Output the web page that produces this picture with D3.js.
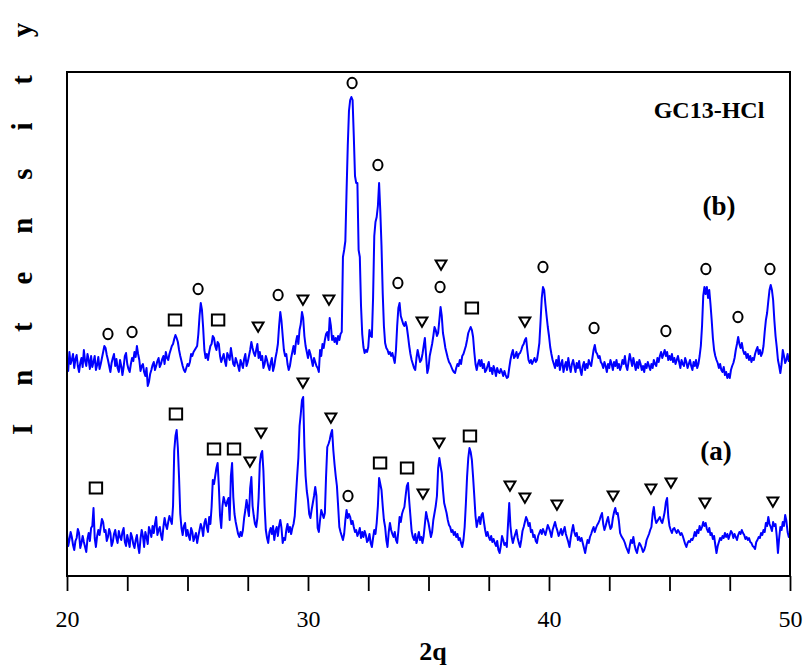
<!DOCTYPE html>
<html>
<head>
<meta charset="utf-8">
<script src="https://cdn.jsdelivr.net/npm/d3@7/dist/d3.min.js"></script>
<style>
  html, body { margin: 0; padding: 0; background: #fff; }
  svg { display: block; }
  text { font-family: "Liberation Serif", "Times New Roman", serif; fill: #000; }
</style>
</head>
<body>
<svg id="chart" width="805" height="668"></svg>
<script>
// XRD scan grid (degrees 2-theta)
const angleStart = 20;
const angleStep = 0.05;
const angleCount = 601;

// Pattern (a): intensity, arbitrary units, one row per degree
const patternA = [
  43, 30, 36, 44, 39, 31, 26, 35, 38, 47, 43, 28, 33, 40, 34, 29, 24, 37, 43, 35, 48,
  50, 68, 38, 29, 40, 46, 41, 49, 57, 54, 44, 46, 35, 39, 47, 43, 30, 34, 42, 46,
  38, 33, 45, 39, 36, 44, 48, 34, 30, 41, 35, 29, 43, 39, 32, 28, 36, 41, 30, 23,
  37, 46, 40, 29, 44, 39, 32, 49, 45, 39, 50, 43, 52, 59, 41, 46, 49, 41, 36, 49,
  58, 51, 47, 54, 60, 56, 52, 70, 125, 140, 146, 128, 98, 62, 48, 41, 50, 53, 40, 46,
  40, 36, 48, 44, 35, 39, 43, 33, 40, 46, 52, 48, 40, 53, 57, 49, 44, 59, 52, 69,
  96, 92, 100, 108, 113, 90, 60, 48, 70, 79, 74, 70, 75, 78, 56, 100, 113, 79, 62, 54,
  48, 42, 39, 44, 40, 46, 58, 66, 76, 68, 60, 88, 99, 70, 60, 52, 49, 58, 78, 112,
  122, 125, 105, 70, 46, 38, 33, 44, 48, 42, 50, 36, 45, 49, 40, 50, 56, 48, 33, 38,
  36, 46, 52, 44, 49, 42, 48, 52, 60, 80, 100, 118, 150, 162, 176, 179, 130, 100, 85, 76,
  62, 58, 66, 73, 80, 89, 80, 48, 44, 56, 66, 62, 58, 63, 100, 129, 132, 136, 142, 146,
  126, 112, 100, 90, 70, 49, 44, 40, 36, 42, 56, 66, 58, 62, 59, 52, 55, 49, 44, 46,
  40, 43, 48, 38, 44, 39, 45, 41, 34, 36, 42, 33, 29, 38, 46, 42, 53, 70, 98, 92,
  86, 70, 56, 49, 36, 29, 44, 53, 46, 42, 39, 44, 36, 33, 45, 59, 54, 62, 66, 69,
  80, 90, 93, 75, 60, 45, 39, 36, 42, 33, 38, 44, 36, 39, 33, 40, 52, 64, 58, 53,
  46, 39, 44, 56, 63, 70, 80, 108, 118, 110, 103, 86, 73, 68, 63, 56, 51, 49, 44, 46,
  41, 44, 39, 42, 36, 38, 33, 29, 36, 49, 72, 99, 118, 128, 124, 116, 99, 80, 60, 49,
  55, 59, 52, 61, 63, 54, 46, 40, 44, 39, 36, 40, 34, 37, 33, 30, 35, 26, 23, 30,
  40, 36, 31, 33, 29, 52, 73, 50, 39, 33, 38, 42, 46, 38, 33, 29, 36, 45, 49, 54,
  59, 56, 50, 53, 44, 46, 39, 41, 35, 33, 40, 43, 46, 42, 47, 44, 41, 46, 51, 48,
  44, 39, 46, 50, 54, 49, 45, 40, 43, 47, 41, 45, 49, 42, 38, 34, 29, 38, 45, 51,
  44, 40, 43, 36, 39, 35, 38, 33, 28, 23, 30, 36, 33, 39, 42, 46, 49, 44, 48, 51,
  53, 56, 60, 63, 52, 46, 50, 55, 59, 52, 47, 49, 58, 64, 68, 62, 63, 55, 43, 40,
  38, 36, 33, 29, 26, 23, 30, 36, 33, 39, 31, 26, 23, 29, 33, 31, 28, 24, 26, 30,
  36, 39, 42, 46, 49, 62, 69, 58, 53, 55, 57, 59, 55, 53, 58, 64, 74, 78, 59, 50,
  46, 43, 47, 48, 45, 43, 46, 44, 41, 43, 40, 36, 32, 29, 33, 35, 34, 37, 36, 39,
  44, 40, 46, 43, 50, 46, 49, 54, 50, 53, 47, 44, 48, 41, 43, 37, 40, 31, 23, 30,
  34, 38, 36, 40, 38, 43, 39, 42, 37, 41, 45, 43, 38, 42, 39, 36, 41, 44, 42, 46,
  43, 41, 37, 39, 36, 38, 34, 33, 30, 29, 27, 34, 36, 39, 38, 43, 41, 46, 44, 53,
  50, 59, 52, 49, 45, 54, 50, 52, 40, 23, 38, 49, 46, 54, 50, 61, 55, 44, 39, 42
];

// Pattern (b): intensity, arbitrary units (plotted with a vertical offset)
const patternB = [
  51, 45, 64, 52, 56, 62, 48, 57, 61, 50, 44, 53, 58, 49, 66, 55, 50, 62, 56, 47, 60,
  49, 54, 60, 46, 51, 59, 47, 52, 58, 64, 70, 68, 61, 56, 50, 44, 53, 58, 62, 50,
  57, 48, 44, 56, 50, 41, 49, 60, 63, 52, 47, 44, 52, 58, 55, 64, 59, 70, 62, 56,
  45, 50, 52, 44, 40, 48, 30, 34, 42, 46, 51, 54, 46, 50, 55, 58, 49, 52, 57, 60,
  52, 64, 58, 56, 62, 66, 70, 72, 77, 81, 78, 74, 66, 60, 55, 50, 46, 44, 48, 52,
  50, 54, 62, 60, 64, 66, 68, 70, 82, 100, 113, 106, 88, 66, 58, 62, 56, 64, 70, 72,
  80, 78, 70, 66, 74, 72, 60, 54, 58, 62, 55, 50, 63, 60, 56, 68, 60, 52, 50, 58,
  54, 50, 45, 56, 52, 48, 57, 62, 50, 54, 60, 66, 74, 68, 63, 60, 66, 72, 58, 64,
  56, 60, 48, 52, 60, 56, 50, 46, 53, 58, 45, 50, 58, 64, 72, 90, 104, 95, 80, 66,
  60, 62, 52, 46, 50, 58, 64, 70, 62, 74, 80, 72, 86, 92, 104, 98, 80, 70, 64, 58,
  66, 62, 56, 50, 58, 54, 50, 48, 44, 66, 60, 72, 68, 76, 82, 84, 76, 98, 90, 76,
  80, 74, 78, 72, 80, 76, 82, 84, 159, 166, 175, 225, 270, 305, 316, 319, 316, 280, 240, 233,
  233, 166, 159, 110, 82, 69, 63, 66, 64, 69, 86, 80, 79, 118, 180, 194, 199, 210, 233, 205,
  170, 123, 90, 73, 68, 66, 62, 64, 60, 63, 58, 53, 66, 90, 108, 113, 100, 96, 92, 90,
  94, 89, 80, 70, 62, 56, 52, 48, 46, 58, 66, 60, 54, 56, 62, 70, 78, 60, 43, 48,
  60, 66, 72, 80, 89, 86, 80, 83, 96, 109, 100, 83, 76, 68, 63, 58, 54, 52, 49, 46,
  44, 43, 48, 52, 50, 56, 52, 60, 62, 66, 70, 76, 83, 86, 89, 86, 79, 64, 52, 46,
  52, 56, 50, 56, 48, 52, 44, 46, 50, 54, 45, 48, 42, 50, 46, 40, 48, 44, 43, 47,
  44, 40, 45, 41, 38, 39, 48, 56, 62, 66, 58, 60, 64, 58, 62, 63, 66, 70, 72, 76,
  78, 66, 56, 53, 56, 52, 55, 58, 54, 56, 64, 73, 95, 118, 129, 126, 112, 100, 89, 80,
  69, 62, 56, 52, 48, 56, 50, 60, 46, 52, 56, 44, 50, 54, 46, 58, 50, 44, 52, 56,
  50, 44, 53, 48, 55, 46, 41, 50, 54, 46, 52, 48, 56, 52, 50, 58, 66, 71, 64, 62,
  58, 60, 54, 52, 48, 54, 50, 44, 52, 48, 56, 52, 46, 54, 50, 56, 48, 52, 46, 50,
  56, 52, 60, 50, 46, 54, 62, 56, 50, 58, 52, 46, 54, 48, 56, 52, 46, 50, 44, 52,
  48, 54, 50, 46, 52, 48, 56, 52, 50, 58, 54, 60, 64, 58, 62, 66, 60, 64, 56, 60,
  56, 62, 54, 58, 52, 56, 60, 54, 48, 56, 52, 50, 58, 54, 48, 52, 56, 50, 46, 54,
  50, 56, 48, 52, 60, 70, 90, 120, 129, 122, 129, 118, 126, 112, 96, 78, 66, 60, 56, 53,
  48, 52, 46, 44, 49, 41, 44, 38, 42, 38, 46, 50, 53, 58, 66, 72, 79, 72, 68, 73,
  66, 62, 64, 58, 62, 56, 60, 54, 58, 56, 62, 66, 69, 62, 66, 60, 63, 70, 84, 96,
  103, 115, 126, 131, 126, 116, 96, 80, 69, 56, 50, 43, 52, 66, 60, 53, 56, 62, 55, 59
];
const offsetB = 160;

// Phase markers: [2-theta, label height, phase symbol]
const markersA = [
  [21.20, 88, "square"], [24.52, 162, "square"], [26.10, 127, "square"],
  [26.93, 127, "square"], [27.59, 114, "triangle"], [28.05, 143, "triangle"],
  [29.79, 193, "triangle"], [30.95, 158, "triangle"], [31.66, 80, "circle"],
  [32.99, 113, "square"], [34.11, 108, "square"], [34.77, 82, "triangle"],
  [35.44, 133, "triangle"], [36.72, 140, "square"], [38.38, 90, "triangle"],
  [39.00, 78, "triangle"], [40.33, 71, "triangle"], [42.66, 80, "triangle"],
  [44.23, 87, "triangle"], [45.06, 93, "triangle"], [46.47, 73, "triangle"],
  [49.29, 74, "triangle"]
];
const markersB = [
  [21.70, 82, "circle"], [22.70, 84, "circle"], [24.48, 96, "square"],
  [25.44, 127, "circle"], [26.27, 96, "square"], [27.93, 89, "triangle"],
  [28.76, 121, "circle"], [29.79, 116, "triangle"], [30.87, 116, "triangle"],
  [31.83, 333, "circle"], [32.90, 251, "circle"], [33.73, 133, "circle"],
  [34.73, 94, "triangle"], [35.48, 129, "circle"], [35.52, 151, "triangle"],
  [36.80, 108, "square"], [39.00, 94, "triangle"], [39.75, 149, "circle"],
  [41.87, 88, "circle"], [44.85, 85, "circle"], [46.51, 147, "circle"],
  [47.84, 99, "circle"], [49.17, 147, "circle"]
];

const xTicks = [20, 22.5, 25, 27.5, 30, 32.5, 35, 37.5, 40, 42.5, 45, 47.5, 50];
const xLabelTicks = [20, 30, 40, 50];

const serif = "'Liberation Serif', 'Times New Roman', serif";

const svg = d3.select("#chart");
const plot = { left: 67, right: 790, top: 72, bottom: 576 };

const x = d3.scaleLinear().domain([20, 50]).range([plot.left, plot.right]);
const y = d3.scaleLinear().domain([0, 504]).range([plot.bottom, plot.top]);

const angles = d3.range(angleCount).map(i => angleStart + i * angleStep);

const line = d3.line()
  .x(d => x(d[0]))
  .y(d => y(d[1]));

const seriesA = angles.map((a, i) => [a, patternA[i]]);
const seriesB = angles.map((a, i) => [a, patternB[i] + offsetB]);

[seriesA, seriesB].forEach(s => {
  svg.append("path")
    .datum(s)
    .attr("d", line)
    .attr("fill", "none")
    .attr("stroke", "#0000ff")
    .attr("stroke-width", 2)
    .attr("stroke-linejoin", "round");
});

// Phase symbols
function markerPath(shape) {
  const p = d3.path();
  if (shape === "square") {
    p.rect(-6.2, -5.4, 12.4, 10.8);
  } else if (shape === "triangle") {
    p.moveTo(-5.4, -4.4);
    p.lineTo(5.4, -4.4);
    p.lineTo(0, 4.8);
    p.closePath();
  }
  return p.toString();
}

function drawMarkers(list, offset) {
  const g = svg.append("g");
  list.forEach(([a, h, shape]) => {
    const cx = x(a), cy = y(h + offset);
    if (shape === "circle") {
      g.append("ellipse")
        .attr("cx", cx).attr("cy", cy)
        .attr("rx", 4.6).attr("ry", 5.2)
        .attr("fill", "none").attr("stroke", "#000").attr("stroke-width", 2);
    } else {
      g.append("path")
        .attr("transform", `translate(${cx},${cy})`)
        .attr("d", markerPath(shape))
        .attr("fill", "none").attr("stroke", "#000")
        .attr("stroke-width", 2).attr("stroke-linejoin", "miter");
    }
  });
}
drawMarkers(markersA, 0);
drawMarkers(markersB, offsetB);

// Frame
svg.append("rect")
  .attr("x", plot.left).attr("y", plot.top)
  .attr("width", plot.right - plot.left).attr("height", plot.bottom - plot.top)
  .attr("fill", "none").attr("stroke", "#000").attr("stroke-width", 2);

// Bottom axis
const xAxis = d3.axisBottom(x)
  .tickValues(xTicks)
  .tickSize(15)
  .tickSizeOuter(0)
  .tickFormat(d => xLabelTicks.includes(d) ? d3.format("d")(d) : "");

svg.append("g")
  .attr("transform", `translate(0,${plot.bottom})`)
  .attr("font-family", serif)
  .call(xAxis)
  .call(g => g.select(".domain").remove())
  .call(g => g.selectAll(".tick line").attr("stroke", "#000").attr("stroke-width", 1.8))
  .call(g => g.selectAll(".tick text")
    .attr("dy", null)
    .attr("y", 51)
    .attr("fill", "#000")
    .style("font-family", serif)
    .style("font-size", "24px"));

// Axis titles
svg.append("text")
  .attr("x", 433).attr("y", 660)
  .attr("text-anchor", "middle")
  .style("font-family", serif)
  .style("font-size", "26px").style("font-weight", "bold")
  .text("2q");

svg.append("text")
  .attr("transform", "translate(32,435) rotate(-90)")
  .attr("text-anchor", "start")
  .style("font-family", serif)
  .style("font-size", "29px").style("font-weight", "bold")
  .style("letter-spacing", "15.3px")
  .text("I n t e n s i t y");

// Annotations
svg.append("text")
  .attr("x", 709).attr("y", 118)
  .attr("text-anchor", "middle")
  .style("font-family", serif)
  .style("font-size", "24px").style("font-weight", "bold")
  .text("GC13-HCl");

svg.append("text")
  .attr("x", 719).attr("y", 215)
  .attr("text-anchor", "middle")
  .style("font-family", serif)
  .style("font-size", "27px").style("font-weight", "bold")
  .text("(b)");

svg.append("text")
  .attr("x", 716).attr("y", 460)
  .attr("text-anchor", "middle")
  .style("font-family", serif)
  .style("font-size", "27px").style("font-weight", "bold")
  .text("(a)");
</script>
</body>
</html>
